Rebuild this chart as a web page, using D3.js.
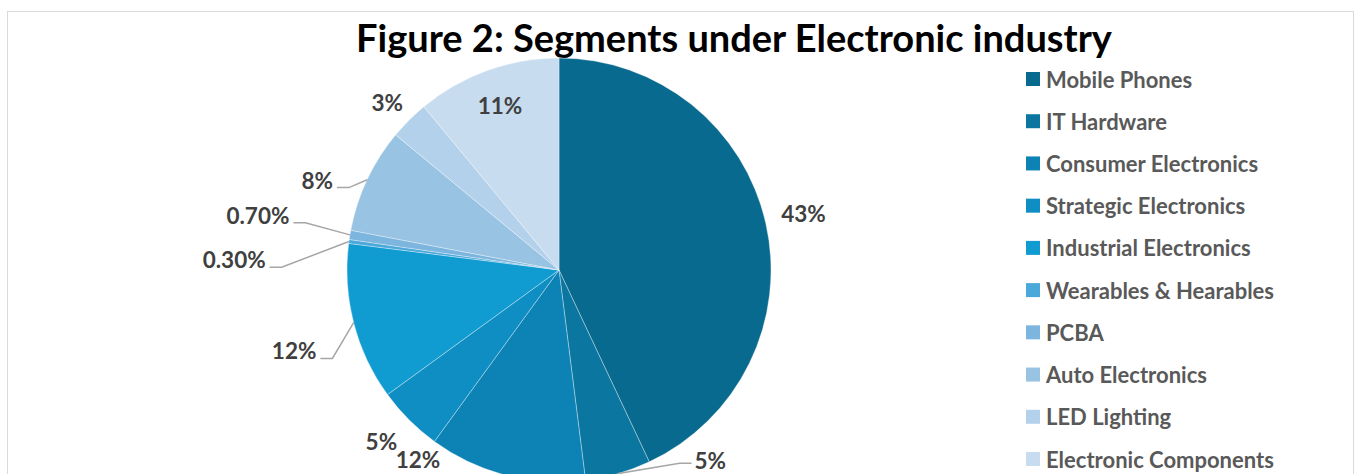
<!DOCTYPE html>
<html>
<head>
<meta charset="utf-8">
<script src="https://cdn.jsdelivr.net/npm/d3@7"></script>
<style>
  html, body { margin: 0; padding: 0; background: #ffffff; }
  #chart { width: 1356px; height: 474px; overflow: hidden; }
  text { font-family: Lato, "Open Sans", sans-serif; font-weight: bold; }
</style>
</head>
<body>
<div id="chart"></div>
<script>
// chart data
const segments = [
  "Mobile Phones",
  "IT Hardware",
  "Consumer Electronics",
  "Strategic Electronics",
  "Industrial Electronics",
  "Wearables & Hearables",
  "PCBA",
  "Auto Electronics",
  "LED Lighting",
  "Electronic Components",
];
const shares = [43, 5, 12, 5, 12, 0.3, 0.7, 8, 3, 11];
const shareLabels = ["43%", "5%", "12%", "5%", "12%", "0.30%", "0.70%", "8%", "3%", "11%"];
const colors = [
  "#086a8e", "#0b76a0", "#0d83b5", "#0e8ec2", "#109bd1",
  "#4aa8da", "#7cb5dd", "#98c3e3", "#b3d1ea", "#c7dcef",
];

// label placement (angle in degrees clockwise from top, distance from centre)
const labelLayout = [
  { a: 76.9, r: 251, leader: false },
  { a: 141.5, r: 243, leader: true },
  { a: 216.7, r: 236, leader: false },
  { a: 226.0, r: 247, leader: false },
  { a: 253.0, r: 277, leader: true },
  { a: 271.8, r: 325, leader: true },
  { a: 280.3, r: 306, leader: true },
  { a: 290.4, r: 258, leader: true },
  { a: 314.3, r: 240, leader: false },
  { a: 340.3, r: 175, leader: false },
];

const width = 1356;
const height = 474;
const cx = 559;
const cy = 270;
const radius = 212;

const svg = d3
  .select("#chart")
  .append("svg")
  .attr("width", width)
  .attr("height", height);

// outer chart border
svg
  .append("rect")
  .attr("x", 7.5)
  .attr("y", 11.5)
  .attr("width", 1346)
  .attr("height", 480)
  .style("fill", "none")
  .style("stroke", "#d9d9d9")
  .style("stroke-width", 1);

svg
  .append("text")
  .attr("x", 734)
  .attr("y", 52)
  .attr("text-anchor", "middle")
  .style("font-size", "38px")
  .style("fill", "#000000")
  .text("Figure 2: Segments under Electronic industry");

const data = segments.map((name, i) => ({
  name,
  value: shares[i],
  label: shareLabels[i],
  color: colors[i],
  layout: labelLayout[i],
}));

const pie = d3
  .pie()
  .sort(null)
  .value((d) => d.value);

const arcGeneral = d3.arc().innerRadius(0).outerRadius(radius);

const g = svg.append("g").attr("transform", `translate(${cx}, ${cy})`);

const slices = pie(data);

g.selectAll("path.slice")
  .data(slices)
  .enter()
  .append("path")
  .attr("class", "slice")
  .attr("d", arcGeneral)
  .style("fill", (d) => d.data.color)
  .style("stroke", "#ffffff")
  .style("stroke-opacity", 0.45)
  .style("stroke-width", 0.75);

const polar = (deg, r) => {
  const t = (deg * Math.PI) / 180;
  return [r * Math.sin(t), -r * Math.cos(t)];
};

const fontSize = 22.5;

const labels = g
  .selectAll("g.lbl")
  .data(slices)
  .enter()
  .append("g")
  .attr("class", "lbl");

labels
  .append("text")
  .attr("text-anchor", "middle")
  .attr("dominant-baseline", "central")
  .style("font-size", `${fontSize}px`)
  .style("fill", "#404040")
  .attr("x", (d) => polar(d.data.layout.a, d.data.layout.r)[0])
  .attr("y", (d) => polar(d.data.layout.a, d.data.layout.r)[1])
  .text((d) => d.data.label);

// leader lines from slice edge to the label
labels
  .filter((d) => d.data.layout.leader)
  .each(function (d) {
    const text = d3.select(this).select("text");
    const w = text.node().getComputedTextLength();
    const [lx, ly] = polar(d.data.layout.a, d.data.layout.r);
    const mid = ((d.startAngle + d.endAngle) / 2) * 180 / Math.PI;
    const [ex, ey] = polar(mid, radius);
    const right = lx > 0;
    const endX = right ? lx - w / 2 - 3 : lx + w / 2 + 4;
    const endY = right ? ly + 3 : ly + 7.5;
    const elbowX = right ? endX - 12 : endX + 12;
    d3.select(this)
      .insert("path", "text")
      .attr("d", d3.line()([[ex, ey], [elbowX, endY], [endX, endY]]))
      .style("fill", "none")
      .style("stroke", "#a6a6a6")
      .style("stroke-width", 1.5);
  });

// legend
const legendY = d3
  .scalePoint()
  .domain(segments)
  .range([79, 459]);

const legend = svg
  .selectAll("g.legend")
  .data(data)
  .enter()
  .append("g")
  .attr("class", "legend")
  .attr("transform", (d) => `translate(1026, ${legendY(d.name)})`);

legend
  .append("rect")
  .attr("x", 0)
  .attr("y", -7)
  .attr("width", 14)
  .attr("height", 14)
  .style("fill", (d) => d.color);

legend
  .append("text")
  .attr("x", 20)
  .attr("y", 0)
  .attr("dominant-baseline", "central")
  .style("font-size", "22px")
  .style("fill", "#595959")
  .text((d) => d.name);
</script>
</body>
</html>
